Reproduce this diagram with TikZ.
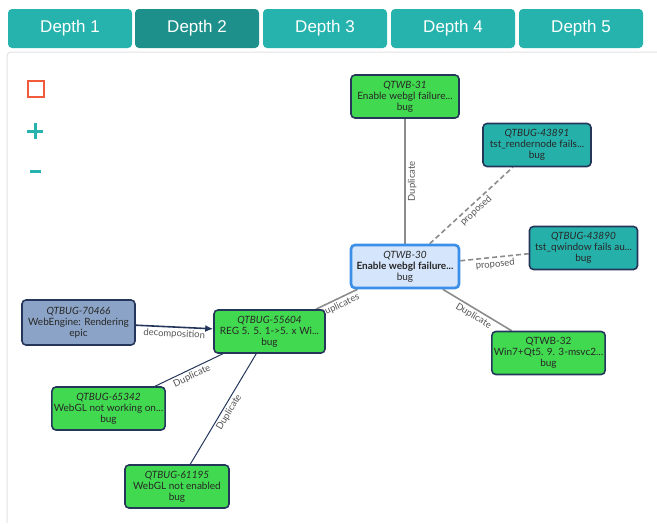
\documentclass[tikz,border=0pt]{standalone}
\usepackage{fontspec}
\setmainfont{Lato}
\newfontfamily\tabfont{Liberation Sans}
\usetikzlibrary{arrows.meta,backgrounds,positioning}

\definecolor{tabteal}{HTML}{26B3AD}
\definecolor{tabactive}{HTML}{1E908B}
\definecolor{buggreen}{HTML}{41D94F}
\definecolor{issueteal}{HTML}{26B0AA}
\definecolor{epicblue}{HTML}{8BA3C6}
\definecolor{focusfill}{HTML}{D5E5FB}
\definecolor{focusline}{HTML}{3B8FE8}
\definecolor{navy}{HTML}{24375A}
\definecolor{edgegray}{HTML}{8C8C8C}
\definecolor{labelgray}{HTML}{555555}
\definecolor{panelline}{HTML}{E2E2E2}
\definecolor{resetred}{HTML}{F15A3B}

\begin{document}
\begin{tikzpicture}[x=1pt, y=1pt,
    tab/.style={rounded corners=4pt, minimum width=124pt, minimum height=39pt, text=white, font=\tabfont\fontsize{17}{17}\selectfont},
    issue/.style={draw=navy, line width=1.6pt, rounded corners=4pt, minimum width=108pt, minimum height=43pt, align=center, inner sep=2pt, text=black!85, font=\fontsize{10}{11}\selectfont},
    bug/.style={issue, fill=buggreen},
    task/.style={issue, fill=issueteal},
    epic/.style={issue, fill=epicblue},
    focus/.style={issue, fill=focusfill, draw=focusline, line width=2.6pt},
    dup/.style={draw=edgegray, line width=1.6pt},
    prop/.style={dup, dash pattern=on 5pt off 3pt},
    sub/.style={draw=navy, line width=1pt},
    lbl/.style={font=\fontsize{9.5}{10}\selectfont, text=labelgray, sloped, inner sep=2pt}]
    \useasboundingbox (0,0) rectangle (657,-523);

    % depth tabs
    \foreach \i/\x/\c in {1/70/tabteal, 2/197/tabactive, 3/325/tabteal, 4/453/tabteal, 5/581/tabteal}
        \node [tab, fill=\c] (depth\i) at (\x,-28.5) {Depth \i};

    % panel border and view buttons
    \draw [panelline, line width=1pt, rounded corners=4pt] (7,-523) |- (657,-52);
    \draw [resetred, line width=1.8pt] (28,-81) rectangle (44,-97);
    \draw [tabteal, line width=3pt] (27,-131) -- (43,-131) (35,-123) -- (35,-139);
    \draw [tabteal, line width=3pt] (30,-171) -- (41,-171);

    % issues
    \node [focus] (qtwb30) at (405,-266.5) {\textit{QTWB-30}\\\textbf{Enable webgl failure...}\\bug};
    \node [bug] (qtwb31) at (405,-96.5) {\textit{QTWB-31}\\Enable webgl failure...\\bug};
    \node [task] (qtbug43891) at (537,-145) {\textit{QTBUG-43891}\\tst\_rendernode fails...\\bug};
    \node [task] (qtbug43890) at (583.5,-248) {\textit{QTBUG-43890}\\tst\_qwindow fails au...\\bug};
    \node [bug] (qtwb32) at (548.5,-353) {QTWB-32\\Win7+Qt5. 9. 3-msvc2...\\bug};
    \node [bug, minimum width=111pt] (qtbug55604) at (269.5,-331.5) {\textit{QTBUG-55604}\\REG 5. 5. 1->5. x Wi...\\bug};
    \node [epic, minimum width=113pt, minimum height=45pt] (qtbug70466) at (78.5,-322.5) {\textit{QTBUG-70466}\\WebEngine: Rendering\\epic};
    \node [bug, minimum width=111pt] (qtbug65342) at (108.5,-408.5) {\textit{QTBUG-65342}\\WebGL not working on...\\bug};
    \node [bug, minimum width=104pt] (qtbug61195) at (177,-486.5) {\textit{QTBUG-61195}\\WebGL not enabled\\bug};

    % links
    \begin{scope}[on background layer]
        \draw [dup] (qtwb30) -- node [lbl, midway, below] {Duplicate} (qtwb31);
        \draw [prop] (qtwb30) -- node [lbl, midway, below] {proposed} (qtbug43891);
        \draw [prop] (qtwb30) -- node [lbl, midway, below] {proposed} (qtbug43890);
        \draw [dup] (qtwb30) -- node [lbl, midway, below] {Duplicate} (qtwb32);
        \draw [dup] (qtbug55604) -- node [lbl, midway, below] {duplicates} (qtwb30);
        \draw [sub, line width=1.6pt, -{Latex[length=8pt, width=7pt]}] (qtbug70466) -- node [lbl, midway, below] {decomposition} (qtbug55604);
        \draw [sub] (qtbug65342) -- node [lbl, midway, below] {Duplicate} (qtbug55604);
        \draw [sub] (qtbug61195) -- node [lbl, midway, below] {Duplicate} (qtbug55604);
    \end{scope}
\end{tikzpicture}
\end{document}
